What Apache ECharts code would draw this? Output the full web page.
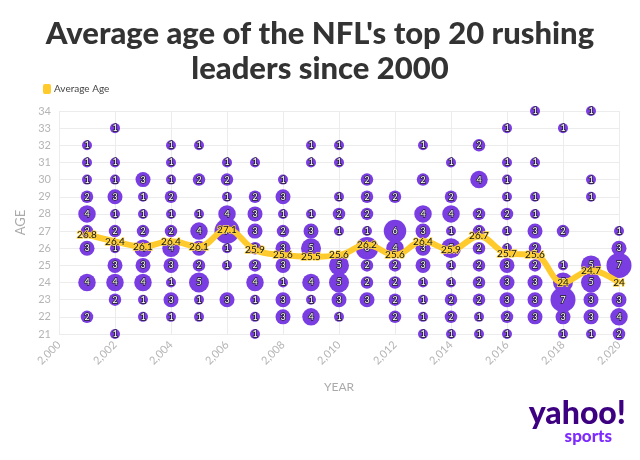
<!DOCTYPE html>
<html>
<head>
<meta charset="utf-8">
<script src="https://cdn.jsdelivr.net/npm/echarts@6/dist/echarts.min.js"></script>
<style>html,body{margin:0;padding:0;background:#fff;}#c{width:640px;height:460px;}</style>
</head>
<body>
<div id="c"></div>
<script>
// Years shown
const years = [2001,2002,2003,2004,2005,2006,2007,2008,2009,2010,2011,2012,2013,2014,2015,2016,2017,2018,2019,2020];
// Ages on the y axis
const ages = [21,22,23,24,25,26,27,28,29,30,31,32,33,34];
// Number of top-20 rushers at each age (columns follow `ages`), one row per year
const counts = [
  [0,2,0,4,0,3,2,4,2,1,1,1,0,0], // 2001
  [1,0,2,4,3,1,2,1,3,1,1,0,1,0], // 2002
  [0,1,1,4,3,4,2,1,1,3,0,0,0,0], // 2003
  [0,1,3,1,3,4,2,1,2,1,1,1,0,0], // 2004
  [0,1,1,5,2,3,4,1,0,2,0,1,0,0], // 2005
  [0,0,3,0,1,1,7,4,1,2,1,0,0,0], // 2006
  [1,1,1,4,2,2,3,3,2,0,1,0,0,0], // 2007
  [0,3,3,1,3,3,2,1,3,1,0,0,0,0], // 2008
  [0,4,1,4,0,5,3,1,0,0,1,1,0,0], // 2009
  [0,1,3,5,5,0,1,2,1,0,1,1,0,0], // 2010
  [0,0,3,2,2,6,1,2,2,2,0,0,0,0], // 2011
  [0,2,2,2,2,4,6,0,2,0,0,0,0,0], // 2012
  [1,1,1,1,3,3,3,4,0,2,0,1,0,0], // 2013
  [1,2,2,1,1,5,1,4,2,0,1,0,0,0], // 2014
  [1,1,2,2,2,2,2,2,0,4,0,2,0,0], // 2015
  [1,2,3,3,3,1,1,2,1,1,1,0,1,0], // 2016
  [0,3,3,3,2,2,3,1,1,0,1,0,0,1], // 2017
  [1,3,7,5,1,0,2,0,0,0,0,0,1,0], // 2018
  [1,3,3,5,5,0,0,0,1,1,0,0,0,1], // 2019
  [2,4,3,0,7,3,1,0,0,0,0,0,0,0]  // 2020
];
// Average age per year
const avgAge = [26.8,26.4,26.1,26.4,26.1,27.1,25.9,25.6,25.5,25.6,26.2,25.6,26.4,25.9,26.7,25.7,25.6,24,24.7,24];

const bubbleData = [];
years.forEach((y, i) => {
  counts[i].forEach((n, j) => { if (n > 0) bubbleData.push([y, ages[j], n]); });
});
const lineData = years.map((y, i) => [y, avgAge[i]]);

const chart = echarts.init(document.getElementById('c'), null, {renderer: 'canvas'});
chart.setOption({
  animation: false,
  backgroundColor: '#fff',
  title: {
    text: "Average age of the NFL's top 20 rushing\nleaders since 2000",
    left: 'center',
    top: 11,
    textStyle: {
      fontFamily: 'Lato',
      fontWeight: 900,
      fontSize: 31,
      lineHeight: 35,
      color: '#333'
    }
  },
  legend: {
    data: ['Average Age'],
    left: 38,
    top: 79,
    itemWidth: 8,
    itemHeight: 10,
    itemGap: 4,
    icon: 'roundRect',
    textStyle: {fontFamily: 'Lato', fontSize: 10, color: '#444', padding: [0,0,0,-2]}
  },
  grid: {left: 59, right: 21, top: 111, bottom: 126},
  xAxis: {
    type: 'value',
    min: 2000, max: 2020, interval: 2,
    name: 'YEAR', nameLocation: 'middle', nameGap: 47,
    nameTextStyle: {color: '#aaa', fontSize: 12, fontFamily: 'Lato'},
    axisLine: {show: false}, axisTick: {show: false},
    axisLabel: {rotate: 45, color: '#b5b5b5', fontSize: 11, fontFamily: 'Lato', margin: 9},
    splitLine: {show: true, lineStyle: {color: '#ececec'}}
  },
  yAxis: {
    type: 'value',
    min: 21, max: 34, interval: 1,
    name: 'AGE', nameLocation: 'middle', nameGap: 27, nameRotate: 90,
    nameTextStyle: {color: '#aaa', fontSize: 13, fontFamily: 'Lato'},
    axisLine: {show: false}, axisTick: {show: false},
    axisLabel: {color: '#b5b5b5', fontSize: 11, fontFamily: 'Lato', margin: 8},
    splitLine: {show: true, lineStyle: {color: '#ececec'}}
  },
  series: [
    {
      name: 'Players',
      type: 'scatter',
      clip: false,
      data: bubbleData,
      symbolSize: v => 7.5 + 2.5 * v[2],
      itemStyle: {color: '#7a3de2', opacity: 1},
      label: {
        show: true,
        position: 'inside',
        formatter: p => p.value[2],
        color: '#fff',
        fontSize: 9,
        fontFamily: 'Lato',
        textBorderColor: '#222',
        textBorderWidth: 1.5
      },
      z: 2
    },
    {
      name: 'Average Age',
      type: 'line',
      data: lineData,
      smooth: 0.4,
      showSymbol: true,
      symbol: 'circle',
      symbolSize: 1,
      lineStyle: {color: '#ffca2c', width: 6},
      itemStyle: {color: '#ffca2c'},
      label: {
        show: true,
        position: 'inside',
        formatter: p => p.value[1],
        color: '#111',
        fontSize: 10,
        fontFamily: 'Lato',
        textBorderColor: '#ffd54a',
        textBorderWidth: 1.5
      },
      z: 5
    }
  ],
  graphic: [
    {
      type: 'text', right: 14, top: 398,
      style: {text: 'yahoo!', font: '900 32px Lato', fill: '#3c0080', textAlign: 'right'}
    },
    {
      type: 'text', right: 28, top: 428,
      style: {text: 'sports', font: '900 17px Lato', fill: '#7e2bff', textAlign: 'right'}
    }
  ]
});
</script>
</body>
</html>
